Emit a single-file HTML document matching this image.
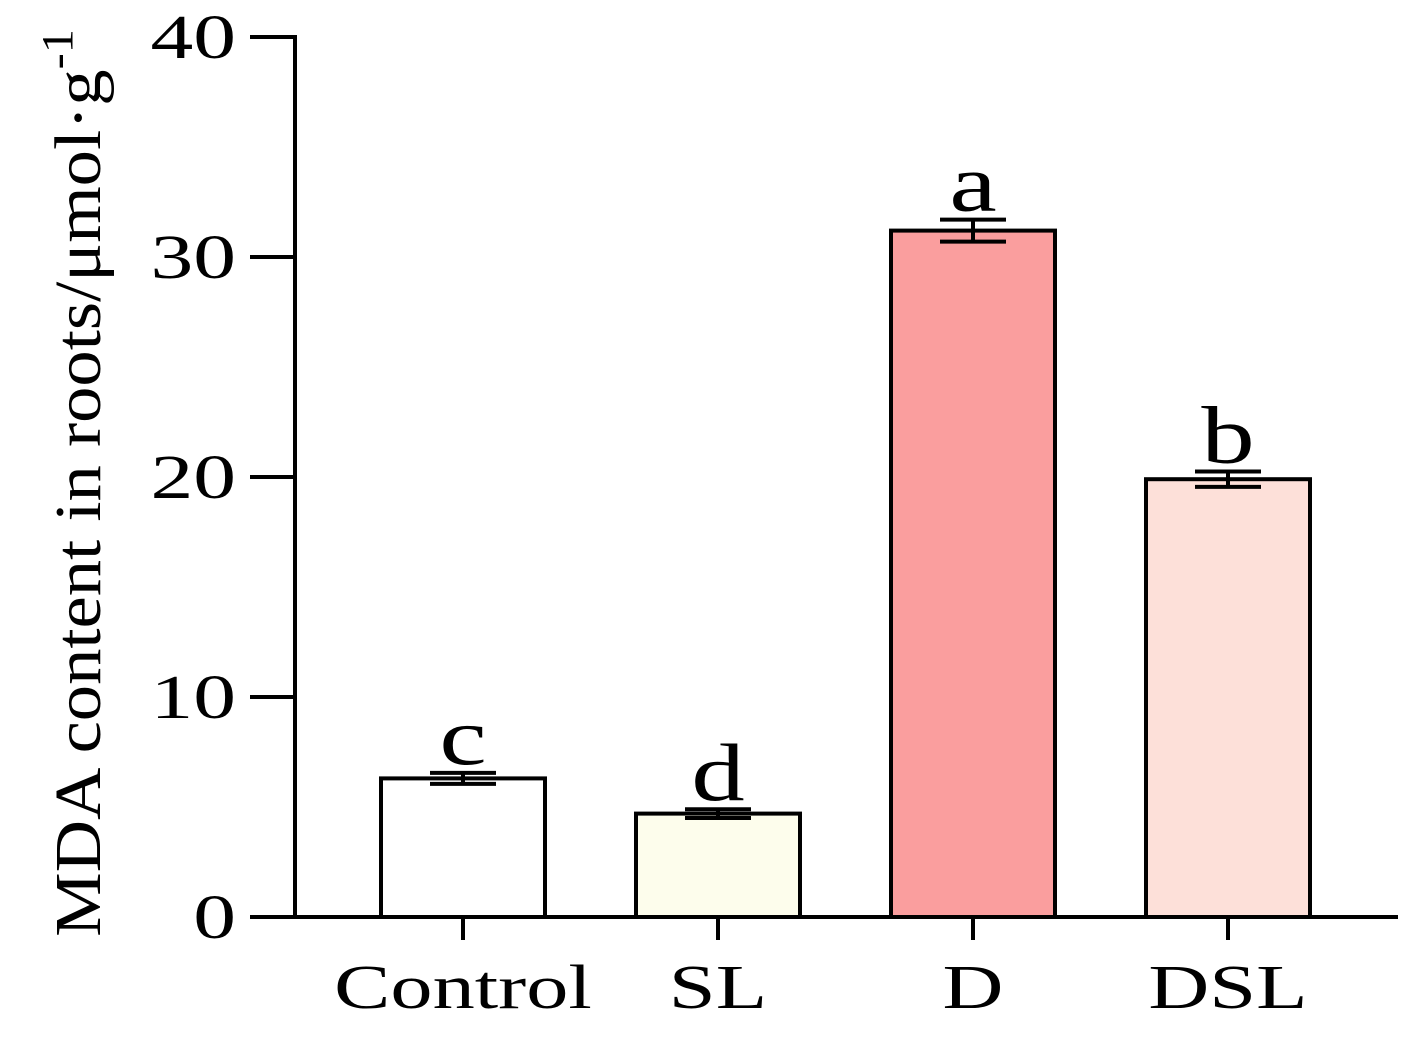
<!DOCTYPE html>
<html><head><meta charset="utf-8"><style>
html,body{margin:0;padding:0;background:#fff;}
svg text{font-family:"Liberation Serif",serif;fill:#000;}
</style></head><body>
<svg id="chart" width="1425" height="1043" viewBox="0 0 1425 1043" xmlns="http://www.w3.org/2000/svg">
<g id="axes"></g>
<g id="bars"></g>
<text transform="translate(100,483) rotate(-90) scale(1.1,1)" text-anchor="middle" font-size="66">MDA content in roots/μmol·g<tspan dy="-28" font-size="44">-1</tspan></text>
</svg>
<script>
const categories=["Control","SL","D","DSL"];
const values=[6.3,4.7,31.2,19.9];
const errors=[0.25,0.2,0.5,0.35];
const letters=["c","d","a","b"];
const fills=["#ffffff","#fdfdec","#fa9e9e","#fde0d9"];
const yTicks=[0,10,20,30,40];
const NS="http://www.w3.org/2000/svg";
const x0=295,x1=1398,y0=917,yScale=22;
function y(v){return y0-v*yScale;}
function xc(i){return 463+i*255;}
function mk(tag,attrs,parent){const e=document.createElementNS(NS,tag);for(const k in attrs)e.setAttribute(k,attrs[k]);parent.appendChild(e);return e;}
const ax=document.getElementById('axes'),bg=document.getElementById('bars');
let l=mk('line',{x1:x0,y1:y(40)-2,x2:x0,y2:y0,stroke:'#000','stroke-width':4},ax);


l=mk('line',{x1:250,y1:y0,x2:x1,y2:y0,stroke:'#000','stroke-width':4},ax);


yTicks.forEach(t=>{
  let tk=mk('line',{x1:250,y1:y(t),x2:x0,y2:y(t),stroke:'#000','stroke-width':4},ax);
  
  
  let tx=mk('text',{transform:`translate(236,${y(t)+21}) scale(1.38,1)`,'text-anchor':'end','font-size':62},ax);
  tx.textContent=t;
  
  
});
categories.forEach((c,i)=>{
  const cx=xc(i),w=164;
  let b=mk('rect',{x:cx-w/2,y:y(values[i]),width:w,height:y0-y(values[i]),fill:fills[i],stroke:'#000','stroke-width':4},bg);
  
  
  const hi=y(values[i]+errors[i]),lo=y(values[i]-errors[i]);
  let e=mk('path',{d:`M${cx},${hi}V${lo}M${cx-33},${hi}H${cx+33}M${cx-33},${lo}H${cx+33}`,stroke:'#000','stroke-width':4,fill:'none'},bg);
  
  
  let lt=mk('text',{transform:`translate(${cx},${hi-9}) scale(1.3,1)`,'text-anchor':'middle','font-size':82},bg);
  lt.textContent=letters[i];
  
  
  let tk=mk('line',{x1:cx,y1:y0,x2:cx,y2:940,stroke:'#000','stroke-width':4},ax);
  
  
  let xl=mk('text',{transform:`translate(${cx},1008) scale(1.36,1)`,'text-anchor':'middle','font-size':62},ax);
  xl.textContent=c;
  
  
});
</script>
</body></html>
